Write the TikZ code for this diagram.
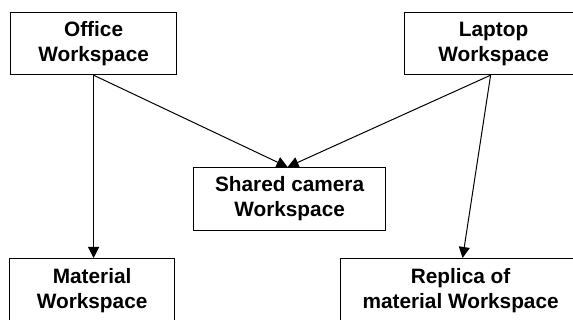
\documentclass[tikz,border=0pt]{standalone}
\usepackage{fontspec}
\setmainfont{Liberation Sans}
\usetikzlibrary{arrows.meta}
\begin{document}
\begin{tikzpicture}[x=1pt,y=-1pt,
  box/.style={draw,line width=1.2pt,align=center,font=\fontsize{20.8}{25}\selectfont\bfseries,inner sep=0pt,anchor=north west},
  conn/.style={line width=1pt,-{Triangle[length=11pt,width=11pt]}}]
\useasboundingbox (0,0) rectangle (573,320);
\clip (0,0) rectangle (573,320);
\fill[white] (0,0) rectangle (573,320);
\node[box,minimum width=166pt,minimum height=62pt] (office) at (10,12) {Office\\Workspace};
\node[box,minimum width=178pt,minimum height=62pt] (laptop) at (404,12) {Laptop\\Workspace};
\node[box,minimum width=192pt,minimum height=63pt] (shared) at (193,167) {Shared camera\\Workspace};
\node[box,minimum width=165pt,minimum height=64pt] (material) at (9,258) {Material\\Workspace};
\node[box,minimum width=240pt,minimum height=64pt] (replica) at (340,258) {Replica of\\material Workspace};
\draw[conn] (office.south) -- (office.south |- material.north);
\draw[conn] (office.south) -- ([xshift=-2pt]shared.north);
\draw[conn] ([xshift=-3pt]laptop.south) -- ([xshift=-2pt]shared.north);
\draw[conn] ([xshift=-3pt]laptop.south) -- ([xshift=2pt]replica.north);
\end{tikzpicture}
\end{document}
